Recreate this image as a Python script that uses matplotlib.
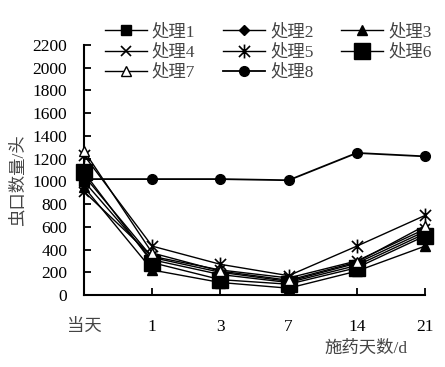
import matplotlib
matplotlib.use("Agg")
import matplotlib.pyplot as plt
from matplotlib.path import Path

plt.rcParams['font.family'] = ['Liberation Serif', 'Noto Sans CJK SC', 'DejaVu Sans']

days = ["当天", "1", "3", "7", "14", "21"]
series_names = ["处理1", "处理2", "处理3", "处理4", "处理5", "处理6", "处理7", "处理8"]
t1 = [1000, 310, 180, 110, 260, 540]
t2 = [1050, 330, 200, 120, 280, 560]
t3 = [950, 220, 110, 60, 210, 430]
t4 = [910, 340, 220, 150, 300, 580]
t5 = [1230, 430, 270, 170, 430, 700]
t6 = [1080, 285, 135, 95, 240, 520]
t7 = [1270, 370, 210, 130, 290, 610]
t8 = [1020, 1020, 1020, 1010, 1250, 1220]
yticks = [0, 200, 400, 600, 800, 1000, 1200, 1400, 1600, 1800, 2000, 2200]

star = Path([(0, -1), (0, 1), (-0.8, -0.8), (0.8, 0.8), (-0.8, 0.8), (0.8, -0.8)],
            [Path.MOVETO, Path.LINETO, Path.MOVETO, Path.LINETO, Path.MOVETO, Path.LINETO])

styles = [
    dict(marker='s', ms=7, mfc='black', mec='black'),
    dict(marker='D', ms=5, mfc='black', mec='black'),
    dict(marker='^', ms=7, mfc='black', mec='black'),
    dict(marker='x', ms=7, mew=1.2, mec='black'),
    dict(marker=star, ms=10, mew=1.2, mfc='none', mec='black'),
    dict(marker='s', ms=12, mfc='black', mec='black'),
    dict(marker='^', ms=7, mfc='white', mec='black', mew=1.0),
    dict(marker='o', ms=7, mfc='black', mec='black'),
]

fig = plt.figure(figsize=(4.45, 3.67), dpi=100)
ax = fig.add_axes([84/445, 1-295/367, (425-84)/445, (295-45)/367])

x = list(range(len(days)))
data = [t1, t2, t3, t4, t5, t6, t7, t8]
for vals, name, st in zip(data, series_names, styles):
    lw = 1.3 if name == "处理8" else 1.0
    ax.plot(x, vals, color='black', lw=lw, label=name, clip_on=False, zorder=3, **st)

ax.set_xlim(0, 5)
ax.set_ylim(0, 2200)
ax.set_yticks(yticks)
ax.set_xticks(x)
ax.set_xticklabels(days)
for s in ['top', 'right']:
    ax.spines[s].set_visible(False)
for s in ['left', 'bottom']:
    ax.spines[s].set_linewidth(1.5)
ax.tick_params(axis='both', direction='in', length=5, width=1.3, labelsize=12.5, colors='black')
ax.tick_params(axis='x', pad=17)
ax.tick_params(axis='y', pad=12)
ax.get_xticklabels()[0].set_color('#444444')

fig.text(18/445, 1-180/367, "虫口数量/头", rotation=90, ha='center', va='center',
         fontsize=12.5, color='#444444')
fig.text(366/445, 1-349/367, "施药天数/d", ha='center', va='center',
         fontsize=12.5, color='#444444')

handles, labels = ax.get_legend_handles_labels()
order = [0, 3, 6, 1, 4, 7, 2, 5]
handles = [handles[i] for i in order]
labels = [labels[i] for i in order]
leg = fig.legend(handles, labels, ncol=3, loc='upper left',
                 bbox_to_anchor=(105/445, 1-24/367), frameon=False,
                 fontsize=12.5, handlelength=2.4, handletextpad=0.3,
                 columnspacing=1.6, labelspacing=0.2, borderpad=0, borderaxespad=0)
for t in leg.get_texts():
    t.set_color('#444444')

fig.savefig("out.png", dpi=100)
